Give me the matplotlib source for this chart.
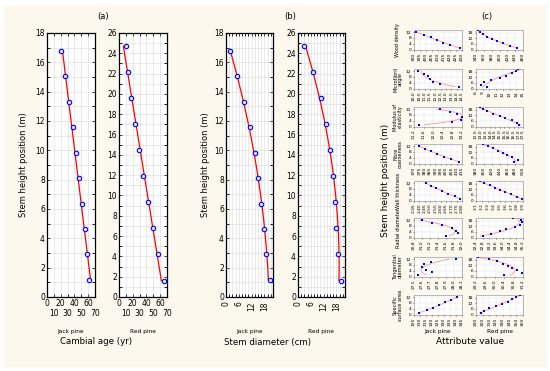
import matplotlib.pyplot as plt
import matplotlib.patches as patches
import numpy as np

# ---- panel (a)/(b) data: stem height position (m) ----
jack_height = [16.8, 15.05, 13.3, 11.6, 9.85, 8.1, 6.35, 4.65, 2.9, 1.15]
red_height = [24.7, 22.15, 19.6, 17.05, 14.5, 11.9, 9.35, 6.75, 4.2, 1.6]

# cambial age (yr)
jack_age = [20.4, 26.0, 31.6, 37.4, 42.8, 47.1, 51.0, 55.0, 58.3, 60.8]
red_age = [9.8, 13.1, 18.0, 23.3, 29.2, 34.5, 41.8, 49.1, 56.4, 65.0]

# stem diameter (cm)
jack_diam = [1.7, 5.2, 8.3, 11.1, 13.5, 15.0, 16.4, 17.7, 18.6, 20.5]
red_diam = [2.7, 7.2, 10.7, 13.3, 15.0, 16.6, 17.4, 18.0, 18.6, 20.2]

# ---- panel (c) data ----
attributes = ["Wood density", "Microfibril\nangle", "Modulus of\nelasticity",
              "Fibre\ncoarseness", "Wall thickness", "Radial diameter",
              "Tangential\ndiameter", "Specific\nsurface area"]
jack_h = [1.2, 3.0, 4.8, 6.6, 8.4, 10.2, 12.0]
red_h = [1.5, 4.0, 6.5, 9.0, 11.5, 14.0, 16.5, 19.0, 20.5]

jack_attr = [
    [428, 420, 414, 409, 404, 398, 392],
    [14.2, 12.4, 11.8, 11.5, 11.3, 10.9, 10.4],
    [11.4, 12.8, 13.15, 13.2, 13.0, 12.7, 12.3],
    [412, 405, 398, 392, 386, 380, 375],
    [2.78, 2.73, 2.67, 2.61, 2.56, 2.51, 2.46],
    [31.6, 31.9, 31.85, 31.75, 31.5, 31.25, 31.0],
    [27.55, 27.72, 27.65, 27.6, 27.62, 27.71, 28.02],
    [309, 316, 321, 326, 331, 336, 341],
]
red_attr = [
    [445, 428, 410, 393, 380, 368, 358, 350, 346],
    [9.7, 8.8, 9.2, 10.3, 11.5, 12.5, 13.3, 13.9, 14.3],
    [17.1, 16.9, 16.3, 15.6, 15.0, 14.3, 13.7, 13.2, 12.9],
    [478, 486, 472, 460, 448, 436, 424, 410, 398],
    [3.88, 3.80, 3.70, 3.60, 3.50, 3.42, 3.33, 3.24, 3.16],
    [32.8, 33.3, 33.8, 34.2, 34.7, 35.0, 35.15, 35.1, 34.6],
    [30.4, 31.15, 30.95, 30.75, 30.55, 30.35, 30.1, 29.75, 29.3],
    [297, 302, 310, 320, 329, 337, 344, 350, 355],
]
jack_xticks = [
    [390, 395, 400, 405, 410, 415, 420, 425, 430],
    [10.0, 10.5, 11.0, 11.5, 12.0, 12.5, 13.0, 13.5, 14.0, 14.5],
    [11.2, 11.6, 12.0, 12.4, 12.8, 13.2],
    [370, 375, 380, 385, 390, 395, 400, 405, 410, 415],
    [2.35, 2.40, 2.45, 2.50, 2.55, 2.60, 2.65, 2.70, 2.75, 2.80],
    [30.8, 31.0, 31.2, 31.4, 31.6, 31.8, 32.0],
    [27.5, 27.6, 27.7, 27.8, 27.9, 28.0, 28.1],
    [305, 310, 315, 320, 325, 330, 335, 340, 345],
]
red_xticks = [
    [340, 360, 380, 400, 420, 440, 460],
    [8, 9, 10, 11, 12, 13, 14, 15],
    [12.5, 13.0, 13.5, 14.0, 14.5, 15.0, 15.5, 16.0, 16.5, 17.0, 17.5],
    [380, 400, 420, 440, 460, 480, 500],
    [3.1, 3.2, 3.3, 3.4, 3.5, 3.6, 3.7, 3.8, 3.9],
    [32.4, 32.8, 33.2, 33.6, 34.0, 34.4, 34.8, 35.2],
    [29.2, 29.6, 30.0, 30.4, 30.8, 31.2],
    [290, 300, 310, 320, 330, 340, 350, 360],
]
jack_fmt = ["%d", "%.1f", "%.1f", "%d", "%.2f", "%.1f", "%.1f", "%d"]
red_fmt = ["%d", "%d", "%.1f", "%d", "%.1f", "%.1f", "%.1f", "%d"]

W, H = 550, 371
BG = "#fcf8ee"
fig = plt.figure(figsize=(5.5, 3.71), dpi=100)
fig.patches.append(patches.Rectangle((4 / W, 5 / H), 542 / W, 361 / H,
                                     transform=fig.transFigure, color=BG, zorder=-10))


def px_axes(x0, y0, x1, y1):
    return fig.add_axes([x0 / W, 1 - y1 / H, (x1 - x0) / W, (y1 - y0) / H])


def fit_curve(ax, xs, hs, color, lw, deg=2):
    coef = np.polyfit(hs, xs, deg)
    hh = np.linspace(min(hs), max(hs), 100)
    ax.plot(np.polyval(coef, hh), hh, color=color, lw=lw, zorder=2)


def style_big(ax, ymax):
    ax.set_ylim(0, ymax)
    ax.set_yticks(np.arange(0, ymax + 1, 2))
    ax.set_yticks(np.arange(0, ymax + 0.1, 1), minor=True)
    ax.grid(True, which="both", color="#d8d8d8", lw=0.4)
    ax.tick_params(labelsize=5.5, length=2, width=0.5, pad=1.5)
    ax.tick_params(axis="y", which="both", right=True, direction="in")
    ax.tick_params(axis="x", which="both", top=True, direction="in")
    for s in ax.spines.values():
        s.set_linewidth(0.9)


# panel (a)
for (x0, x1, xs, hs, ymax, name) in [(47, 95, jack_age, jack_height, 18, "Jack pine"),
                                     (119, 167, red_age, red_height, 26, "Red pine")]:
    ax = px_axes(x0, 33, x1, 297)
    fit_curve(ax, xs, hs, "red", 0.9, deg=1)
    ax.plot(xs, hs, "o", ms=3.2, mfc="#dfe4ff", mec="blue", mew=0.8, zorder=3)
    ax.set_xlim(0, 70)
    style_big(ax, ymax)
    # staggered labels: 0,20,40,60 on the first row, 10,30,50,70 below
    ax.set_xticks([0, 20, 40, 60])
    ax.set_xticks([10, 30, 50, 70], minor=True)
    ax.set_xticklabels(["10", "30", "50", "70"], minor=True)
    ax.tick_params(axis="x", which="minor", labelsize=5.5, pad=8.5)
    fig.text((x0 + x1) / 2 / W, 1 - 331 / H, name, fontsize=4.2, ha="center", va="center")

# panel (b)
for (x0, x1, xs, hs, ymax, name) in [(226, 273, jack_diam, jack_height, 18, "Jack pine"),
                                     (298, 345, red_diam, red_height, 26, "Red pine")]:
    ax = px_axes(x0, 33, x1, 297)
    fit_curve(ax, xs, hs, "red", 0.9, deg=2)
    ax.plot(xs, hs, "o", ms=3.2, mfc="#dfe4ff", mec="blue", mew=0.8, zorder=3)
    ax.set_xlim(0, 22)
    ax.set_xticks([0, 6, 12, 18])
    ax.set_xticks(np.arange(0, 22.1, 1.5), minor=True)
    style_big(ax, ymax)
    ax.tick_params(axis="x", labelrotation=90, pad=3)
    fig.text((x0 + x1) / 2 / W, 1 - 331 / H, name, fontsize=4.2, ha="center", va="center")

for xc in [24, 206]:
    fig.text(xc / W, 1 - 165 / H, "Stem height position (m)", rotation=90,
             fontsize=6, ha="center", va="center")
fig.text(103 / W, 1 - 16 / H, "(a)", fontsize=6, ha="center", va="center")
fig.text(290 / W, 1 - 16 / H, "(b)", fontsize=6, ha="center", va="center")
fig.text(96 / W, 1 - 342 / H, "Cambial age (yr)", fontsize=6.2, ha="center", va="center")
fig.text(268 / W, 1 - 342 / H, "Stem diameter (cm)", fontsize=6.2, ha="center", va="center")

# panel (c)
row_tops = [30, 69, 107, 144, 181, 218, 257, 295]
for i, top in enumerate(row_tops):
    for (x0, x1, hs, vals, ticks, fmt, ylim, yt) in [
            (414, 462, jack_h, jack_attr[i], jack_xticks[i], jack_fmt[i], 13.5, [0, 4, 8, 12]),
            (476, 523, red_h, red_attr[i], red_xticks[i], red_fmt[i], 21, [0, 6, 12, 18])]:
        ax = px_axes(x0, top, x1, top + 19.5)
        fit_curve(ax, vals, hs, "#f4a3a3", 0.7, deg=2)
        ax.plot(vals, hs, "s", ms=1.6, color="blue", mew=0, zorder=3)
        ax.set_xlim(ticks[0], ticks[-1])
        ax.set_xticks(ticks)
        ax.set_xticklabels([fmt % t for t in ticks])
        ax.set_ylim(0, ylim)
        ax.set_yticks(yt)
        ax.grid(True, color="#e2e2e2", lw=0.3)
        ax.tick_params(labelsize=3.2, length=1, width=0.4, pad=1)
        ax.tick_params(axis="x", labelrotation=90)
        for s in ax.spines.values():
            s.set_linewidth(0.4)
            s.set_color("#888888")
    fig.text(398 / W, 1 - (top + 10) / H, attributes[i], rotation=90, fontsize=3.6,
             ha="center", va="center", linespacing=1.0, multialignment="center")

fig.text(487 / W, 1 - 16 / H, "(c)", fontsize=6, ha="center", va="center")
fig.text(385 / W, 1 - 180 / H, "Stem height position (m)", rotation=90,
         fontsize=6.5, ha="center", va="center")
fig.text(438 / W, 1 - 331 / H, "Jack pine", fontsize=4.2, ha="center", va="center")
fig.text(500 / W, 1 - 331 / H, "Red pine", fontsize=4.2, ha="center", va="center")
fig.text(470 / W, 1 - 341 / H, "Attribute value", fontsize=6.5, ha="center", va="center")

fig.savefig("out.png", dpi=100, facecolor="white")
